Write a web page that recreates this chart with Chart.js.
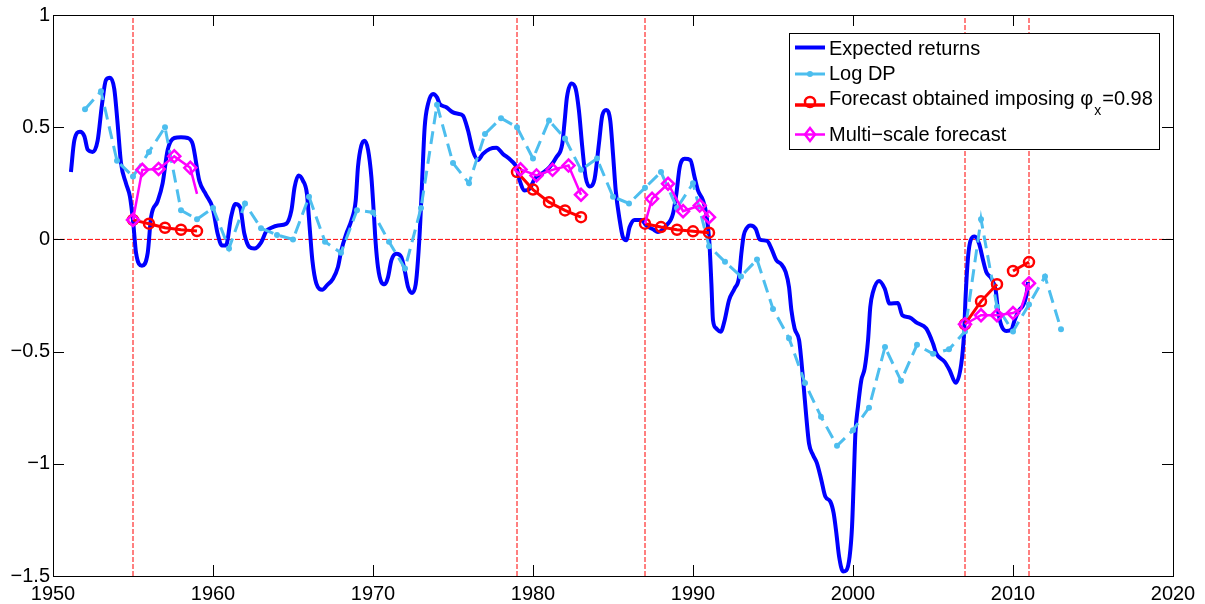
<!DOCTYPE html>
<html lang="en">
<head>
  <meta charset="UTF-8" />
  <title>Expected returns and log DP</title>
  <script src="https://cdn.jsdelivr.net/npm/chart.js"></script>
  <style>
    html, body {
      margin: 0;
      padding: 0;
      background: #ffffff;
    }
    #wrap {
      width: 1205px;
      height: 604px;
    }
  </style>
</head>
<body>
  <div id="wrap"><canvas id="grafico" width="1205" height="604"></canvas></div>

  <script>
    // Expected returns (smooth series)
    const erYears = [
      1951.12, 1951.33, 1951.69, 1951.96, 1952.17, 1952.48, 1952.79, 1953.06, 1953.31, 1953.56,
      1953.83, 1954.04, 1954.25, 1954.56, 1954.81, 1955.02, 1955.19, 1955.56, 1955.92, 1956.13,
      1956.54, 1956.85, 1957.17, 1957.58, 1958.0, 1958.42, 1958.73, 1959.15, 1959.56, 1959.98,
      1960.29, 1960.56, 1960.81, 1961.13, 1961.4, 1961.69, 1961.96, 1962.27, 1962.58, 1963.02,
      1963.33, 1963.65, 1964.06, 1964.58, 1964.9, 1965.1, 1965.35, 1965.62, 1965.87, 1966.04,
      1966.21, 1966.46, 1966.83, 1967.12, 1967.5, 1967.81, 1968.02, 1968.33, 1968.65, 1968.92,
      1969.06, 1969.27, 1969.48, 1969.69, 1969.9, 1970.04, 1970.17, 1970.31, 1970.52, 1970.73,
      1970.94, 1971.15, 1971.46, 1971.77, 1971.98, 1972.19, 1972.44, 1972.67, 1972.81, 1972.96,
      1973.08, 1973.23, 1973.44, 1973.75, 1974.0, 1974.17, 1974.58, 1975.0, 1975.31, 1975.62,
      1975.94, 1976.25, 1976.56, 1976.87, 1977.29, 1977.71, 1978.12, 1978.64, 1978.96, 1979.17,
      1979.48, 1979.79, 1980.1, 1980.52, 1981.04, 1981.46, 1981.83, 1981.98, 1982.12, 1982.4,
      1982.67, 1982.87, 1983.08, 1983.29, 1983.54, 1983.85, 1984.12, 1984.33, 1984.58, 1984.83,
      1985.0, 1985.17, 1985.42, 1985.62, 1985.83, 1986.04, 1986.35, 1986.77, 1987.08, 1987.5,
      1987.81, 1988.33, 1988.75, 1988.96, 1989.17, 1989.48, 1989.83, 1990.1, 1990.31, 1990.63,
      1990.83, 1991.02, 1991.15, 1991.25, 1991.46, 1991.73, 1991.98, 1992.25, 1992.6, 1992.88,
      1993.02, 1993.17, 1993.33, 1993.58, 1993.92, 1994.17, 1994.63, 1994.9, 1995.21, 1995.52,
      1995.79, 1996.0, 1996.15, 1996.35, 1996.63, 1996.77, 1996.92, 1997.08, 1997.25, 1997.5,
      1997.75, 1998.02, 1998.27, 1998.58, 1998.79, 1998.96, 1999.13, 1999.38, 1999.58, 1999.79,
      1999.94, 2000.04, 2000.15, 2000.31, 2000.52, 2000.73, 2000.94, 2001.08, 2001.25, 2001.63,
      2001.98, 2002.29, 2002.81, 2003.08, 2003.54, 2004.0, 2004.58, 2005.0, 2005.21, 2005.73,
      2006.04, 2006.42, 2006.77, 2006.94, 2007.04, 2007.19, 2007.35, 2007.6, 2007.88, 2008.13,
      2008.33, 2008.65, 2008.92, 2009.06, 2009.27, 2009.58, 2009.9, 2010.1, 2010.38, 2010.63,
      2010.83, 2010.94
    ];
    const erValues = [
      0.30, 0.44, 0.48, 0.46, 0.40, 0.39, 0.44, 0.60, 0.71, 0.72,
      0.67, 0.515, 0.34, 0.25, 0.19, 0.07, -0.06, -0.117, -0.06, 0.10,
      0.17, 0.25, 0.40, 0.452, 0.455, 0.452, 0.425, 0.26, 0.20, 0.14,
      0.025, -0.027, -0.027, 0.10, 0.158, 0.144, 0.025, -0.034, -0.041, -0.012,
      0.037, 0.052, 0.062, 0.07, 0.129, 0.233, 0.285, 0.262, 0.203, 0.055,
      -0.093, -0.197, -0.224, -0.205, -0.175, -0.123, -0.049, 0.025, 0.085, 0.173,
      0.322, 0.418, 0.44, 0.40, 0.277, 0.129, -0.019, -0.123, -0.19, -0.20,
      -0.168, -0.093, -0.064, -0.079, -0.138, -0.212, -0.239, -0.20, -0.093, 0.085,
      0.277, 0.50, 0.604, 0.648, 0.633, 0.604, 0.589, 0.566, 0.56, 0.552,
      0.485, 0.393, 0.354, 0.381, 0.403, 0.408, 0.381, 0.351, 0.322, 0.262,
      0.218, 0.225, 0.27, 0.292, 0.322, 0.366, 0.426, 0.529, 0.633, 0.695,
      0.67, 0.574, 0.411, 0.277, 0.236, 0.27, 0.426, 0.552, 0.577, 0.529,
      0.381, 0.218, 0.085, 0.01, -0.004, 0.055, 0.087, 0.087, 0.062, 0.045,
      0.033, 0.062, 0.114, 0.203, 0.322, 0.359, 0.354, 0.277, 0.218, 0.173,
      0.114, -0.01, -0.197, -0.36, -0.397, -0.412, -0.36, -0.271, -0.219, -0.168,
      -0.064, 0.018, 0.047, 0.062, 0.047, 0.0, -0.007, -0.041, -0.093, -0.111,
      -0.145, -0.212, -0.316, -0.397, -0.449, -0.538, -0.657, -0.79, -0.909, -0.961,
      -0.998, -1.072, -1.146, -1.168, -1.22, -1.309, -1.413, -1.48, -1.475, -1.413,
      -1.28, -1.087, -0.864, -0.746, -0.627, -0.575, -0.449, -0.301, -0.234, -0.185,
      -0.219, -0.286, -0.283, -0.338, -0.348, -0.372, -0.397, -0.464, -0.509, -0.546,
      -0.583, -0.639, -0.553, -0.42, -0.252, -0.079, -0.004, 0.013, -0.019, -0.093,
      -0.145, -0.175, -0.227, -0.316, -0.383, -0.408, -0.402, -0.36, -0.316, -0.294,
      -0.252, -0.19
    ];

    // Log DP (annual)
    const dpYears = [
      1952, 1953, 1954, 1955, 1956, 1957, 1958, 1959, 1960, 1961,
      1962, 1963, 1964, 1965, 1966, 1967, 1968, 1969, 1970, 1971,
      1972, 1973, 1974, 1975, 1976, 1977, 1978, 1979, 1980, 1981,
      1982, 1983, 1984, 1985, 1986, 1987, 1988, 1989, 1990, 1991,
      1992, 1993, 1994, 1995, 1996, 1997, 1998, 1999, 2000, 2001,
      2002, 2003, 2004, 2005, 2006, 2007, 2008, 2009, 2010, 2011,
      2012, 2013
    ];
    const dpValues = [
      0.58, 0.66, 0.35, 0.28, 0.39, 0.50, 0.13, 0.09, 0.14, -0.04,
      0.16, 0.05, 0.02, 0.0, 0.19, -0.01, -0.06, 0.13, 0.12, -0.01,
      -0.13, 0.14, 0.60, 0.34, 0.25, 0.47, 0.54, 0.50, 0.36, 0.53,
      0.45, 0.31, 0.36, 0.19, 0.16, 0.23, 0.30, 0.14, 0.25, -0.03,
      -0.10, -0.165, -0.09, -0.31, -0.44, -0.64, -0.79, -0.92, -0.85, -0.75,
      -0.48, -0.63, -0.47, -0.51, -0.49, -0.41, 0.09, -0.30, -0.41, -0.29,
      -0.165, -0.40
    ];

    // Forecast obtained imposing phi_x = 0.98
    const fcYears55 = [1955, 1956, 1957, 1958, 1959];
    const fcValues55 = [0.087, 0.07, 0.052, 0.043, 0.037];
    const fcYears79 = [1979, 1980, 1981, 1982, 1983];
    const fcValues79 = [0.30, 0.222, 0.166, 0.129, 0.099];
    const fcYears87 = [1987, 1988, 1989, 1990, 1991];
    const fcValues87 = [0.07, 0.055, 0.043, 0.036, 0.03];
    const fcYears07a = [2007, 2008, 2009];
    const fcValues07a = [-0.378, -0.276, -0.20];
    const fcYears07b = [2010, 2011];
    const fcValues07b = [-0.141, -0.101];

    // Multi-scale forecast
    const msYears55 = [1955, 1955.58, 1956.6, 1957.58, 1958.58, 1959.0];
    const msValues55 = [0.087, 0.31, 0.314, 0.37, 0.319, 0.203];
    const msYears79 = [1979.22, 1980.22, 1981.22, 1982.22, 1983.0];
    const msValues79 = [0.312, 0.285, 0.31, 0.329, 0.199];
    const msYears87 = [1987.0, 1987.44, 1988.44, 1989.38, 1990.42, 1991.0];
    const msValues87 = [0.07, 0.181, 0.248, 0.126, 0.151, 0.099];
    const msYears07 = [2007, 2008, 2009, 2010, 2010.5, 2011];
    const msValues07 = [-0.378, -0.338, -0.338, -0.328, -0.31, -0.195];

    // reference lines
    const refYears = [1955, 1979, 1987, 2007, 2011];
    const refLevel = 0;

    const xMin = 1950, xMax = 2020, xStep = 10;
    const yMin = -1.5, yMax = 1, yStep = 0.5;

    const FONT = '"Liberation Sans", Arial, Helvetica, sans-serif';
    const C_ER = '#0000ff';
    const C_DP = '#4dbeee';
    const C_FC = '#ff0000';
    const C_MS = '#ff00ff';
    const C_REF = '#ff0000';

    function pts(xs, ys) {
      return xs.map((x, i) => ({ x: x, y: ys[i] }));
    }

    const datasets = [];

    // reference lines (bottom)
    refYears.forEach((yr) => {
      datasets.push({
        data: pts([yr, yr], [yMin, yMax]),
        borderColor: C_REF,
        borderWidth: 1,
        borderDash: [5, 2],
        pointRadius: 0,
        order: 9,
      });
    });
    datasets.push({
      data: pts([xMin, xMax], [refLevel, refLevel]),
      borderColor: C_REF,
      borderWidth: 1,
      borderDash: [5, 2],
      pointRadius: 0,
      order: 9,
    });

    datasets.push({
      label: 'Expected returns',
      data: pts(erYears, erValues),
      borderColor: C_ER,
      borderWidth: 4,
      pointRadius: 0,
      cubicInterpolationMode: 'monotone',
      order: 4,
    });

    datasets.push({
      label: 'Log DP',
      data: pts(dpYears, dpValues),
      borderColor: C_DP,
      backgroundColor: C_DP,
      borderWidth: 3,
      borderDash: [13, 7],
      pointRadius: 3,
      pointBorderWidth: 0,
      pointBackgroundColor: C_DP,
      order: 3,
    });

    [[fcYears55, fcValues55], [fcYears79, fcValues79], [fcYears87, fcValues87],
     [fcYears07a, fcValues07a], [fcYears07b, fcValues07b]].forEach(([xs, ys]) => {
      datasets.push({
        label: 'Forecast',
        data: pts(xs, ys),
        borderColor: C_FC,
        borderWidth: 3,
        pointStyle: 'circle',
        pointRadius: 5,
        pointBorderWidth: 2.5,
        pointBorderColor: C_FC,
        pointBackgroundColor: 'rgba(0,0,0,0)',
        order: 2,
      });
    });

    // points without marker, by window
    const msNoMarker = [[5], [], [0], [4]];
    [[msYears55, msValues55], [msYears79, msValues79], [msYears87, msValues87],
     [msYears07, msValues07]].forEach(([xs, ys], k) => {
      datasets.push({
        label: 'Multi-scale forecast',
        data: pts(xs, ys),
        borderColor: C_MS,
        borderWidth: 2.5,
        pointStyle: 'rectRot',
        pointRadius: (ctx) => (msNoMarker[k].includes(ctx.dataIndex) ? 0 : 6),
        pointBorderWidth: 2.5,
        pointBorderColor: C_MS,
        pointBackgroundColor: 'rgba(0,0,0,0)',
        order: 1,
      });
    });

    // box with inward ticks, MATLAB style
    const boxTicks = {
      id: 'boxTicks',
      afterDraw(chart) {
        const c = chart.ctx;
        const a = chart.chartArea;
        const xs = chart.scales.x;
        const ys = chart.scales.y;
        const len = 11;
        c.save();
        c.strokeStyle = '#000000';
        c.lineWidth = 1;
        c.strokeRect(Math.round(a.left) + 0.5, Math.round(a.top) + 0.5,
          Math.round(a.right - a.left), Math.round(a.bottom - a.top));
        c.beginPath();
        for (let v = xMin; v <= xMax; v += xStep) {
          const px = Math.round(xs.getPixelForValue(v)) + 0.5;
          c.moveTo(px, a.bottom); c.lineTo(px, a.bottom - len);
          c.moveTo(px, a.top); c.lineTo(px, a.top + len);
        }
        for (let v = yMin; v <= yMax + 1e-9; v += yStep) {
          const py = Math.round(ys.getPixelForValue(v)) + 0.5;
          c.moveTo(a.left, py); c.lineTo(a.left + len, py);
          c.moveTo(a.right, py); c.lineTo(a.right - len, py);
        }
        c.stroke();
        c.restore();
      },
    };

    // legend box in upper right corner
    const legendBox = {
      id: 'legendBox',
      afterDraw(chart) {
        const c = chart.ctx;
        const bx = 789.5, by = 33.5, bw = 370, bh = 116;
        const sx0 = 795, sx1 = 825, mx = 810, tx = 829;
        c.save();
        c.fillStyle = '#ffffff';
        c.fillRect(bx, by, bw, bh);
        c.strokeStyle = '#000000';
        c.lineWidth = 1;
        c.strokeRect(bx, by, bw, bh);

        // samples
        c.lineWidth = 4;
        c.strokeStyle = C_ER;
        c.beginPath(); c.moveTo(sx0, 47.5); c.lineTo(sx1, 47.5); c.stroke();

        c.lineWidth = 3;
        c.strokeStyle = C_DP;
        c.beginPath(); c.moveTo(sx0, 74); c.lineTo(sx1, 74); c.stroke();
        c.fillStyle = C_DP;
        c.beginPath(); c.arc(mx, 74, 3, 0, Math.PI * 2); c.fill();

        c.lineWidth = 3.5;
        c.strokeStyle = C_FC;
        c.beginPath(); c.moveTo(sx0, 105); c.lineTo(sx1, 105); c.stroke();
        c.lineWidth = 2.5;
        c.beginPath(); c.arc(mx, 102, 5, 0, Math.PI * 2); c.stroke();

        c.strokeStyle = C_MS;
        c.beginPath(); c.moveTo(sx0, 134.5); c.lineTo(sx1, 134.5); c.stroke();
        c.beginPath();
        c.moveTo(mx, 128); c.lineTo(mx + 5, 134.5); c.lineTo(mx, 141); c.lineTo(mx - 5, 134.5);
        c.closePath(); c.stroke();

        // texts
        c.fillStyle = '#000000';
        c.textBaseline = 'alphabetic';
        c.textAlign = 'left';
        c.font = '20px ' + FONT;
        c.fillText('Expected returns', tx, 54.5);
        c.fillText('Log DP', tx, 80);
        const t1 = 'Forecast obtained imposing \u03c6';
        c.fillText(t1, tx, 105);
        let w = c.measureText(t1).width;
        c.font = '14px ' + FONT;
        c.fillText('x', tx + w + 1, 115);
        const w2 = c.measureText('x').width;
        c.font = '20px ' + FONT;
        c.fillText('=0.98', tx + w + w2 + 2, 105);
        c.fillText('Multi\u2212scale forecast', tx, 141);
        c.restore();
      },
    };

    new Chart(document.getElementById('grafico').getContext('2d'), {
      type: 'line',
      data: { datasets: datasets },
      options: {
        responsive: false,
        animation: false,
        layout: { padding: { top: 14, right: 32, bottom: 0, left: 0 } },
        plugins: {
          legend: { display: false },
          tooltip: { enabled: false },
        },
        scales: {
          x: {
            type: 'linear',
            min: xMin,
            max: xMax,
            grid: { display: false, drawTicks: false },
            border: { display: false },
            ticks: {
              stepSize: xStep,
              color: '#000000',
              padding: 6,
              font: { family: FONT, size: 20 },
              callback: (v) => String(v),
            },
            afterFit: (s) => { s.height = 28; },
          },
          y: {
            type: 'linear',
            min: yMin,
            max: yMax,
            grid: { display: false, drawTicks: false },
            border: { display: false },
            ticks: {
              stepSize: yStep,
              color: '#000000',
              padding: 3,
              font: { family: FONT, size: 20 },
              callback: (v) => String(v).replace('-', '\u2212'),
            },
            afterFit: (s) => { s.width = 53; },
          },
        },
      },
      plugins: [boxTicks, legendBox],
    });
  </script>
</body>
</html>
